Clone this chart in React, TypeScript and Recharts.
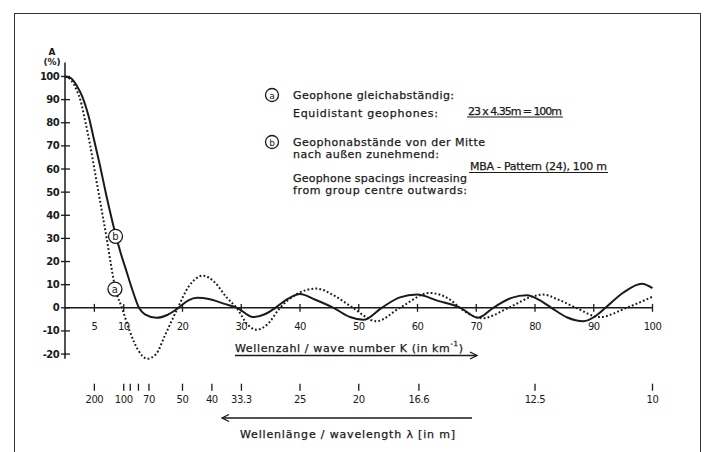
import { LineChart, Line, XAxis, YAxis, ReferenceLine, ReferenceDot } from "recharts";

// curve b: MBA pattern (24), 100 m  -- solid
const SOLID_K = [0, 1, 2, 3, 4, 5, 6, 7, 8, 8.7, 9.5, 10.5, 11.5, 12.6, 13.6, 15.6, 17.4, 19.3, 21, 22.5, 24.5, 27, 29.3, 32, 34, 35.8, 38, 40, 42.5, 45.7, 48.5, 50.8, 53.9, 57, 59.9, 63.5, 67.3, 70.3, 72.9, 76, 78.6, 81, 82.8, 85.5, 88.2, 90.5, 92, 95, 98.2, 100];
const SOLID_A = [100, 99.3, 96, 91, 83, 72, 61, 49, 38, 30.8, 23.5, 15.5, 7.5, 0, -2.8, -4.3, -3.1, 0, 3.2, 4.3, 3.8, 1.8, 0, -4, -2.8, 0, 4, 6, 3.6, 0, -4, -5.2, 0, 4.5, 5.7, 3, 0, -4.3, 0, 4.3, 5.4, 3, 0, -4.2, -5.8, -3.2, 0, 6.5, 10.4, 8.5];

// curve a: 23 x 4.35 m equidistant -- dotted
const DOTTED_K = [0, 1, 2, 2.6, 3.5, 4.3, 5, 5.7, 6.4, 7.1, 7.8, 8.6, 9.7, 11, 12.5, 14, 15.5, 17, 19.2, 21, 23.5, 25.5, 27.5, 29.2, 31, 32.6, 34.5, 36.6, 39.5, 42.8, 46, 49, 53, 57, 62.1, 65.5, 67.2, 71, 75.5, 79.7, 81.4, 84, 87, 91, 95.6, 100];
const DOTTED_A = [100, 98.5, 94, 90, 80, 70, 60, 50, 40, 30, 19, 8, 0, -10, -18.5, -22, -20, -12, 0, 9, 13.9, 11, 4.5, 0, -7, -9.5, -7, 0, 6, 8.3, 5, 0, -5.8, 0, 6.4, 3.6, 0, -4.5, 0, 5, 5.7, 3.5, 0, -4, 0, 4.8];

const K_TICKS = [5, 10, 20, 30, 40, 50, 60, 70, 80, 90, 100];
const Y_TICKS = [-20, -10, 0, 10, 20, 30, 40, 50, 60, 70, 80, 90, 100];
const WAVELENGTHS = [200, 100, 90, 80, 70, 50, 40, 33.3, 25, 20, 16.6, 12.5, 10];
const WAVELENGTH_LABELS = ["200", "100", "", "", "70", "50", "40", "33.3", "25", "20", "16.6", "12.5", "10"];

const solidData = SOLID_K.map((k, i) => ({ k, a: SOLID_A[i] }));
const dottedData = DOTTED_K.map((k, i) => ({ k, a: DOTTED_A[i] }));
const wlTicks = WAVELENGTHS.map((l) => 1000 / l);

const FONT = "DejaVu Sans";
const INK = "#1a1a1a";

function YTick({ x, y, payload }: any) {
  return (
    <g>
      <line x1={x - 4} x2={x + 5} y1={y} y2={y} stroke={INK} strokeWidth={1.3} />
      <text x={x - 6} y={y} textAnchor="end" dominantBaseline="central" fontFamily={FONT} fontSize={10} fontWeight={600} letterSpacing={-0.6} fill={INK}>
        {payload.value}
      </text>
    </g>
  );
}

function WlTick({ x, y, index }: any) {
  return (
    <g>
      <line x1={x} x2={x} y1={y + 25} y2={y + 32} stroke={INK} strokeWidth={1.3} />
      <text x={x} y={y + 41} textAnchor="middle" dominantBaseline="central" fontFamily={FONT} fontSize={10} letterSpacing={-0.4} fill={INK}>
        {WAVELENGTH_LABELS[index]}
      </text>
    </g>
  );
}

function Marker({ cx, cy, t }: { cx: number; cy: number; t: string }) {
  return (
    <g>
      <circle cx={cx} cy={cy} r={6.5} fill="#fff" stroke={INK} strokeWidth={1.3} />
      <text x={cx} y={cy + 0.5} textAnchor="middle" dominantBaseline="central" fontFamily={FONT} fontSize={9} fill={INK}>{t}</text>
    </g>
  );
}

export default function App() {
  const txt = { fontFamily: FONT, fontSize: 11, fill: INK, stroke: INK, strokeWidth: 0.25 } as const;
  return (
    <div style={{ position: "absolute", left: 0, top: 0, width: 705, height: 452, overflow: "hidden", background: "#fff" }}>
      <div style={{ position: "absolute", left: 14, top: 13, width: 685, height: 480, border: "1.5px solid #333" }} />
      <LineChart width={705} height={452} data={solidData} margin={{ top: 62.6, right: 52.5, bottom: 63.3, left: 15 }} style={{ position: "absolute", left: 0, top: 0 }}>
        <XAxis dataKey="k" type="number" domain={[0, 100]} ticks={wlTicks} interval={0} height={30} axisLine={false} tickLine={false} tickSize={0} tickMargin={0} tick={<WlTick />} />
        <YAxis type="number" domain={[-20, 106]} ticks={Y_TICKS} interval={0} width={50} axisLine={{ stroke: INK, strokeWidth: 1.5 }} tickLine={false} tickSize={0} tickMargin={0} tick={<YTick />} />
        <ReferenceLine y={0} stroke={INK} strokeWidth={1.4} />
        {K_TICKS.map((k) => (
          <ReferenceLine
            key={k}
            segment={[{ x: k, y: -1.7 }, { x: k, y: 1.7 }]}
            stroke={INK}
            strokeWidth={1.3}
            label={{ value: String(k), position: "bottom", offset: 11, fontFamily: FONT, fontSize: 10, letterSpacing: -0.5, fill: INK }}
          />
        ))}
        <Line data={dottedData} dataKey="a" type="monotone" stroke={INK} strokeWidth={2} strokeDasharray="1.8 2.2" dot={false} isAnimationActive={false} />
        <Line data={solidData} dataKey="a" type="monotone" stroke={INK} strokeWidth={2} dot={false} isAnimationActive={false} />
        <ReferenceDot x={8.6} y={30.9} r={7} fill="#fff" stroke={INK} strokeWidth={1.3} label={{ value: "b", position: "center", fontFamily: FONT, fontSize: 10, fill: INK }} />
        <ReferenceDot x={8.5} y={8.1} r={7} fill="#fff" stroke={INK} strokeWidth={1.3} label={{ value: "a", position: "center", fontFamily: FONT, fontSize: 10, fill: INK }} />
      </LineChart>
      <svg width={705} height={452} style={{ position: "absolute", left: 0, top: 0, pointerEvents: "none" }}>
        <text x={52} y={52} textAnchor="middle" dominantBaseline="central" fontFamily={FONT} fontSize={9} fontWeight={700} fill={INK}>A</text>
        <text x={52} y={62} textAnchor="middle" dominantBaseline="central" fontFamily={FONT} fontSize={9} fontWeight={700} fill={INK}>(%)</text>

        <Marker cx={272} cy={95} t="a" />
        <text x={293} y={95} dominantBaseline="central" {...txt} textLength={161}>Geophone gleichabständig:</text>
        <text x={293} y={113} dominantBaseline="central" {...txt} textLength={145}>Equidistant geophones:</text>
        <text x={468} y={111} dominantBaseline="central" {...txt} textLength={94}>23 x 4.35m = 100m</text>
        <line x1={467} x2={563} y1={117} y2={117} stroke={INK} strokeWidth={1.2} />

        <Marker cx={272} cy={142} t="b" />
        <text x={293} y={142.5} dominantBaseline="central" {...txt} textLength={192}>Geophonabstände von der Mitte</text>
        <text x={293} y={154.5} dominantBaseline="central" {...txt} textLength={146}>nach außen zunehmend:</text>
        <text x={470} y={166.5} dominantBaseline="central" {...txt} textLength={137}>MBA - Pattern (24), 100 m</text>
        <line x1={469} x2={608} y1={172.5} y2={172.5} stroke={INK} strokeWidth={1.2} />
        <text x={293} y={178.5} dominantBaseline="central" {...txt} textLength={174}>Geophone spacings increasing</text>
        <text x={293} y={190.5} dominantBaseline="central" {...txt} textLength={174}>from group centre outwards:</text>

        <text x={235} y={348} dominantBaseline="central" {...txt} textLength={228}>
          Wellenzahl  /  wave number K (in km<tspan dy={-4} fontSize={7}>-1</tspan><tspan dy={4}>)</tspan>
        </text>
        <line x1={235} x2={477} y1={355.5} y2={355.5} stroke={INK} strokeWidth={1.3} />
        <polyline points="470,352 477,355.5 470,359" fill="none" stroke={INK} strokeWidth={1.3} />

        <line x1={222} x2={472} y1={418} y2={418} stroke={INK} strokeWidth={1.3} />
        <polyline points="229,414.5 222,418 229,421.5" fill="none" stroke={INK} strokeWidth={1.3} />
        <text x={240} y={434} dominantBaseline="central" {...txt} textLength={215}>Wellenlänge / wavelength  λ [in m]</text>
      </svg>
    </div>
  );
}
